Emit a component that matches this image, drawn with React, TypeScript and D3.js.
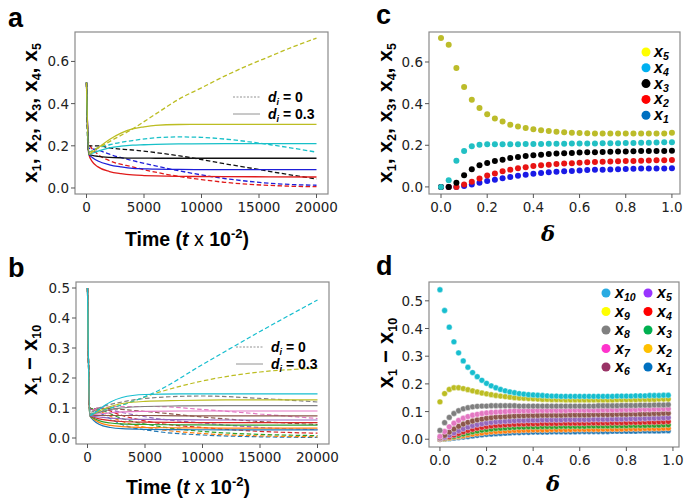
import React from 'react';
import * as d3 from 'd3';

// ---------- panel a: five species, d_i = 0.3 (solid) and d_i = 0 (dashed)
const tSolidA = [0, 200, 500, 1000, 2000, 3000, 4000, 5000, 6000, 8000, 12000, 20000];
const solidA = [
  { color: '#e01a1a', v: [0.5, 0.16, 0.125, 0.1, 0.078, 0.068, 0.062, 0.059, 0.057, 0.055, 0.054, 0.052] },
  { color: '#1f1fd8', v: [0.5, 0.16, 0.145, 0.128, 0.11, 0.1, 0.093, 0.091, 0.089, 0.088, 0.087, 0.087] },
  { color: '#111111', v: [0.5, 0.16, 0.155, 0.15, 0.145, 0.143, 0.142, 0.142, 0.141, 0.141, 0.141, 0.141] },
  { color: '#17c0c8', v: [0.5, 0.16, 0.165, 0.175, 0.19, 0.198, 0.203, 0.205, 0.207, 0.209, 0.21, 0.21] },
  { color: '#bcbd22', v: [0.5, 0.16, 0.17, 0.19, 0.23, 0.26, 0.28, 0.29, 0.297, 0.301, 0.302, 0.302] },
];
const tDashA = [0, 150, 1000, 2000, 4000, 6000, 8000, 10000, 12000, 14000, 16000, 18000, 20000];
const dashA = [
  { color: '#e01a1a', v: [0.5, 0.22, 0.16, 0.13, 0.1, 0.075, 0.055, 0.04, 0.027, 0.018, 0.012, 0.008, 0.006] },
  { color: '#1f1fd8', v: [0.5, 0.19, 0.18, 0.16, 0.13, 0.105, 0.082, 0.062, 0.045, 0.032, 0.022, 0.016, 0.013] },
  { color: '#111111', v: [0.5, 0.2, 0.2, 0.19, 0.18, 0.168, 0.153, 0.135, 0.115, 0.097, 0.078, 0.06, 0.043] },
  { color: '#17c0c8', v: [0.5, 0.17, 0.19, 0.205, 0.225, 0.238, 0.242, 0.24, 0.232, 0.22, 0.205, 0.188, 0.17] },
  { color: '#bcbd22', v: [0.5, 0.17, 0.19, 0.22, 0.28, 0.35, 0.42, 0.475, 0.53, 0.58, 0.625, 0.67, 0.71] },
];

// ---------- panel b: ten species
const tab10 = ['#1f77b4', '#ff7f0e', '#2ca02c', '#d62728', '#9467bd', '#8c564b', '#e377c2', '#7f7f7f', '#bcbd22', '#17becf'];
const tSolidB = [0, 200, 500, 1000, 2000, 3000, 5000, 8000, 12000, 20000];
const solidB = [
  [0.5, 0.075, 0.06, 0.046, 0.035, 0.031, 0.029, 0.028, 0.027, 0.027],
  [0.5, 0.075, 0.064, 0.052, 0.042, 0.038, 0.035, 0.034, 0.033, 0.033],
  [0.5, 0.075, 0.067, 0.058, 0.05, 0.047, 0.045, 0.044, 0.043, 0.043],
  [0.5, 0.075, 0.07, 0.064, 0.058, 0.055, 0.053, 0.052, 0.051, 0.051],
  [0.5, 0.075, 0.072, 0.07, 0.066, 0.064, 0.062, 0.061, 0.06, 0.06],
  [0.5, 0.075, 0.075, 0.075, 0.075, 0.075, 0.075, 0.074, 0.074, 0.074],
  [0.5, 0.075, 0.078, 0.08, 0.084, 0.087, 0.089, 0.09, 0.09, 0.09],
  [0.5, 0.075, 0.08, 0.085, 0.095, 0.1, 0.105, 0.107, 0.108, 0.108],
  [0.5, 0.075, 0.08, 0.09, 0.105, 0.115, 0.122, 0.125, 0.127, 0.127],
  [0.5, 0.075, 0.08, 0.095, 0.12, 0.135, 0.145, 0.147, 0.147, 0.147],
];
const tDashB = [0, 200, 1000, 3000, 6000, 10000, 15000, 20000];
const dashB = [
  [0.5, 0.1, 0.085, 0.045, 0.022, 0.01, 0.004, 0.002],
  [0.5, 0.1, 0.09, 0.055, 0.03, 0.015, 0.007, 0.004],
  [0.5, 0.1, 0.095, 0.065, 0.04, 0.022, 0.012, 0.008],
  [0.5, 0.095, 0.1, 0.075, 0.05, 0.035, 0.022, 0.016],
  [0.5, 0.095, 0.1, 0.085, 0.065, 0.05, 0.035, 0.028],
  [0.5, 0.09, 0.1, 0.095, 0.085, 0.07, 0.055, 0.045],
  [0.5, 0.09, 0.1, 0.105, 0.105, 0.095, 0.08, 0.065],
  [0.5, 0.085, 0.1, 0.12, 0.135, 0.14, 0.132, 0.12],
  [0.5, 0.08, 0.09, 0.11, 0.15, 0.19, 0.22, 0.232],
  [0.5, 0.08, 0.09, 0.11, 0.155, 0.245, 0.355, 0.46],
];

// ---------- panel c: steady state vs delta, five species
const deltaC = d3.range(31).map((i) => i / 30);
const dotsC = [
  { color: '#1a1ae6', v: [0, 0, 0, 0.005, 0.012, 0.02, 0.028, 0.035, 0.042, 0.048, 0.054, 0.059, 0.063, 0.067, 0.07, 0.073, 0.075, 0.077, 0.079, 0.081, 0.082, 0.083, 0.084, 0.085, 0.086, 0.087, 0.088, 0.088, 0.089, 0.089, 0.09] },
  { color: '#e81414', v: [0, 0, 0, 0.012, 0.025, 0.04, 0.055, 0.065, 0.075, 0.083, 0.09, 0.095, 0.1, 0.104, 0.107, 0.11, 0.112, 0.114, 0.116, 0.118, 0.12, 0.121, 0.122, 0.123, 0.124, 0.125, 0.126, 0.127, 0.128, 0.128, 0.129] },
  { color: '#000000', v: [0, 0, 0.02, 0.056, 0.085, 0.104, 0.115, 0.125, 0.131, 0.139, 0.144, 0.149, 0.152, 0.155, 0.158, 0.16, 0.162, 0.163, 0.165, 0.166, 0.167, 0.168, 0.169, 0.17, 0.17, 0.171, 0.172, 0.172, 0.173, 0.173, 0.174] },
  { color: '#22c0c4', v: [0, 0.032, 0.126, 0.173, 0.195, 0.203, 0.205, 0.205, 0.205, 0.205, 0.205, 0.206, 0.206, 0.206, 0.207, 0.207, 0.207, 0.208, 0.208, 0.209, 0.209, 0.21, 0.21, 0.21, 0.211, 0.211, 0.212, 0.212, 0.213, 0.214, 0.215] },
  { color: '#bcbc2a', v: [0.715, 0.683, 0.571, 0.48, 0.419, 0.379, 0.349, 0.328, 0.314, 0.299, 0.29, 0.283, 0.277, 0.272, 0.268, 0.265, 0.262, 0.26, 0.259, 0.258, 0.257, 0.256, 0.256, 0.256, 0.256, 0.256, 0.256, 0.256, 0.256, 0.257, 0.26] },
];
const legendC = [
  { label: '5', color: '#ffff00' },
  { label: '4', color: '#00b0f0' },
  { label: '3', color: '#000000' },
  { label: '2', color: '#ff0000' },
  { label: '1', color: '#0070c0' },
];

// ---------- panel d: steady state vs delta, ten species
const deltaD = d3.range(50).map((i) => i * 0.02);
const dotsD = [
  [0.000,0.001,0.002,0.004,0.006,0.008,0.010,0.012,0.014,0.016,0.018,0.019,0.020,0.021,0.022,0.023,0.024,0.024,0.025,0.025,0.026,0.026,0.026,0.026,0.027,0.027,0.027,0.027,0.027,0.027,0.028,0.028,0.028,0.028,0.028,0.028,0.028,0.029,0.029,0.029,0.029,0.029,0.029,0.030,0.030,0.030,0.030,0.030,0.031,0.031],
  [0.000,0.002,0.004,0.007,0.010,0.013,0.016,0.019,0.021,0.023,0.025,0.027,0.028,0.029,0.030,0.031,0.032,0.032,0.033,0.033,0.034,0.034,0.034,0.034,0.035,0.035,0.035,0.035,0.035,0.036,0.036,0.036,0.036,0.036,0.036,0.037,0.037,0.037,0.037,0.037,0.038,0.038,0.038,0.038,0.039,0.039,0.039,0.039,0.040,0.040],
  [0.001,0.003,0.006,0.010,0.014,0.019,0.023,0.027,0.030,0.033,0.035,0.037,0.039,0.040,0.041,0.042,0.043,0.044,0.044,0.045,0.045,0.045,0.046,0.046,0.046,0.046,0.047,0.047,0.047,0.047,0.047,0.047,0.048,0.048,0.048,0.048,0.048,0.049,0.049,0.049,0.049,0.050,0.050,0.050,0.050,0.051,0.051,0.051,0.052,0.052],
  [0.002,0.005,0.009,0.015,0.021,0.027,0.032,0.036,0.040,0.043,0.046,0.048,0.050,0.051,0.052,0.053,0.054,0.055,0.055,0.056,0.056,0.056,0.057,0.057,0.057,0.057,0.058,0.058,0.058,0.058,0.058,0.058,0.059,0.059,0.059,0.059,0.059,0.060,0.060,0.060,0.060,0.061,0.061,0.061,0.062,0.062,0.062,0.063,0.063,0.064],
  [0.003,0.008,0.015,0.023,0.031,0.038,0.044,0.049,0.053,0.056,0.059,0.061,0.063,0.064,0.065,0.066,0.067,0.068,0.068,0.069,0.069,0.069,0.070,0.070,0.070,0.070,0.070,0.071,0.071,0.071,0.071,0.071,0.071,0.072,0.072,0.072,0.072,0.073,0.073,0.073,0.074,0.074,0.074,0.075,0.075,0.076,0.076,0.077,0.077,0.078],
  [0.005,0.014,0.026,0.037,0.047,0.055,0.061,0.066,0.070,0.073,0.076,0.078,0.080,0.081,0.082,0.083,0.084,0.085,0.085,0.086,0.086,0.086,0.087,0.087,0.087,0.087,0.087,0.088,0.088,0.088,0.088,0.088,0.088,0.089,0.089,0.089,0.089,0.089,0.090,0.090,0.090,0.091,0.091,0.091,0.092,0.092,0.093,0.093,0.094,0.094],
  [0.010,0.028,0.045,0.058,0.068,0.076,0.082,0.087,0.090,0.093,0.095,0.097,0.098,0.099,0.100,0.101,0.102,0.102,0.103,0.103,0.103,0.104,0.104,0.104,0.104,0.104,0.104,0.104,0.105,0.105,0.105,0.105,0.105,0.105,0.105,0.106,0.106,0.106,0.106,0.107,0.107,0.107,0.107,0.108,0.108,0.108,0.109,0.109,0.110,0.110],
  [0.032,0.060,0.079,0.093,0.103,0.110,0.114,0.117,0.119,0.120,0.120,0.121,0.121,0.121,0.121,0.121,0.121,0.120,0.120,0.120,0.120,0.120,0.120,0.120,0.120,0.120,0.120,0.120,0.120,0.120,0.120,0.120,0.120,0.120,0.121,0.121,0.121,0.121,0.121,0.122,0.122,0.122,0.122,0.123,0.123,0.123,0.124,0.124,0.124,0.125],
  [0.135,0.165,0.180,0.186,0.186,0.183,0.179,0.175,0.171,0.167,0.164,0.161,0.158,0.156,0.154,0.152,0.150,0.149,0.148,0.147,0.146,0.145,0.144,0.144,0.143,0.143,0.143,0.142,0.142,0.142,0.142,0.142,0.142,0.142,0.142,0.142,0.142,0.142,0.143,0.143,0.143,0.143,0.143,0.144,0.144,0.144,0.144,0.145,0.145,0.145],
  [0.540,0.465,0.405,0.352,0.312,0.283,0.260,0.241,0.226,0.213,0.202,0.193,0.186,0.180,0.175,0.171,0.168,0.165,0.163,0.161,0.160,0.159,0.158,0.157,0.156,0.156,0.155,0.155,0.155,0.155,0.155,0.155,0.155,0.155,0.155,0.155,0.155,0.155,0.156,0.156,0.156,0.156,0.157,0.157,0.157,0.158,0.158,0.158,0.159,0.159],
];
const legendD = [
  { label: '10', color: '#29abe2' }, { label: '5', color: '#9933ff' },
  { label: '9', color: '#ffff00' }, { label: '4', color: '#ff0000' },
  { label: '8', color: '#808080' }, { label: '3', color: '#00b050' },
  { label: '7', color: '#ff33cc' }, { label: '2', color: '#ffc000' },
  { label: '6', color: '#993366' }, { label: '1', color: '#0070c0' },
];

const tickFont = '"DejaVu Sans", sans-serif';
const labelFont = '"Liberation Sans", Arial, sans-serif';

type Sc = d3.ScaleLinear<number, number>;

function Frame({ x, y, xTicks, yTicks, xFmt, yFmt }: { x: Sc; y: Sc; xTicks: number[]; yTicks: number[]; xFmt: (v: number) => string; yFmt: (v: number) => string }) {
  const [x0, x1] = x.range();
  const [y0, y1] = y.range();
  return (
    <g>
      <rect x={x0} y={y1} width={x1 - x0} height={y0 - y1} fill="none" stroke="#8a8a8a" strokeWidth={1.2} />
      {xTicks.map((t) => (
        <g key={'x' + t}>
          <line x1={x(t)} x2={x(t)} y1={y0} y2={y0 + 4} stroke="#555" strokeWidth={1} />
          <text x={x(t)} y={y0 + 18} textAnchor="middle" fontSize={13.5} fontFamily={tickFont} fill="#222">{xFmt(t)}</text>
        </g>
      ))}
      {yTicks.map((t) => (
        <g key={'y' + t}>
          <line x1={x0 - 4} x2={x0} y1={y(t)} y2={y(t)} stroke="#555" strokeWidth={1} />
          <text x={x0 - 6} y={y(t) + 5} textAnchor="end" fontSize={13.5} fontFamily={tickFont} fill="#222">{yFmt(t)}</text>
        </g>
      ))}
    </g>
  );
}

const fmt1 = d3.format('.1f');
const fmtInt = (v: number) => String(v);

function Sub({ s }: { s: string }) {
  return <tspan fontSize={12.5} dy={4}>{s}</tspan>;
}

function TimeLabel({ cx, y }: { cx: number; y: number }) {
  return (
    <text x={cx} y={y} textAnchor="middle" fontFamily={labelFont} fontWeight="bold" fontSize={19.5} fill="#000">
      Time (<tspan fontStyle="italic">t</tspan><tspan fontWeight="normal"> x </tspan>10<tspan fontSize={13} dy={-8}>-2</tspan><tspan dy={8}>)</tspan>
    </text>
  );
}

function DiLegend({ x, y }: { x: number; y: number }) {
  return (
    <g fontFamily={labelFont} fontWeight="bold" fontSize={14}>
      <line x1={x} x2={x + 27} y1={y} y2={y} stroke="#777" strokeWidth={0.8} strokeDasharray="2,1.5" />
      <text x={x + 35} y={y + 5}><tspan fontStyle="italic">d</tspan><tspan fontStyle="italic" fontSize={9} dy={3}>i</tspan><tspan dy={-3}> = 0</tspan></text>
      <line x1={x} x2={x + 27} y1={y + 17} y2={y + 17} stroke="#777" strokeWidth={0.8} />
      <text x={x + 35} y={y + 22}><tspan fontStyle="italic">d</tspan><tspan fontStyle="italic" fontSize={9} dy={3}>i</tspan><tspan dy={-3}> = 0.3</tspan></text>
    </g>
  );
}

function PanelLetter({ x, y, s }: { x: number; y: number; s: string }) {
  return <text x={x} y={y} fontFamily={labelFont} fontWeight="bold" fontSize={27}>{s}</text>;
}

function FiveLabel({ cx, cy }: { cx: number; cy: number }) {
  return (
    <text transform={`translate(${cx},${cy}) rotate(-90)`} textAnchor="middle" fontFamily={labelFont} fontWeight="bold" fontSize={21}>
      x<Sub s="1" /><tspan dy={-4}>, x</tspan><Sub s="2" /><tspan dy={-4}>, x</tspan><Sub s="3" /><tspan dy={-4}>, x</tspan><Sub s="4" /><tspan dy={-4}>, x</tspan><Sub s="5" />
    </text>
  );
}

function TenLabel({ cx, cy }: { cx: number; cy: number }) {
  return (
    <text transform={`translate(${cx},${cy}) rotate(-90)`} textAnchor="middle" fontFamily={labelFont} fontWeight="bold" fontSize={22}>
      x<Sub s="1" /><tspan dy={-4}> − x</tspan><Sub s="10" />
    </text>
  );
}

export default function App() {
  // panel a
  const xa = d3.scaleLinear().domain([-1000, 21000]).range([75, 328]);
  const ya = d3.scaleLinear().domain([-0.0285, 0.7395]).range([194, 32]);
  // panel b
  const xb = d3.scaleLinear().domain([-1000, 21000]).range([76, 329]);
  const yb = d3.scaleLinear().domain([-0.02, 0.52]).range([444, 282]);
  // panel c
  const xc = d3.scaleLinear().domain([-0.052, 1.035]).range([429, 680]);
  const yc = d3.scaleLinear().domain([-0.034, 0.744]).range([194, 32]);
  // panel d
  const xd = d3.scaleLinear().domain([-0.047, 1.026]).range([429, 679]);
  const yd = d3.scaleLinear().domain([-0.028, 0.568]).range([447, 282]);

  const lineOf = (x: Sc, y: Sc, ts: number[]) =>
    d3.line<number>().x((_, i) => x(ts[i])).y((v) => y(v)).curve(d3.curveMonotoneX);

  const la = lineOf(xa, ya, tSolidA);
  const lad = lineOf(xa, ya, tDashA);
  const lb = lineOf(xb, yb, tSolidB);
  const lbd = lineOf(xb, yb, tDashB);

  return (
    <svg width={685} height={501} style={{ display: 'block', position: 'absolute', left: 0, top: 0, background: '#fff' }}>
      <rect width={685} height={501} fill="#fff" />
      <defs>
        <clipPath id="ca"><rect x={75} y={32} width={253} height={162} /></clipPath>
        <clipPath id="cb"><rect x={76} y={282} width={253} height={162} /></clipPath>
      </defs>

      {/* ---- a ---- */}
      <PanelLetter x={8} y={27} s="a" />
      <g clipPath="url(#ca)" fill="none" strokeWidth={1.3}>
        {dashA.map((s, i) => <path key={'ad' + i} d={lad(s.v) || ''} stroke={s.color} strokeDasharray="4.5,2.5" />)}
        {solidA.map((s, i) => <path key={'as' + i} d={la(s.v) || ''} stroke={s.color} />)}
      </g>
      <Frame x={xa} y={ya} xTicks={[0, 5000, 10000, 15000, 20000]} yTicks={[0, 0.2, 0.4, 0.6]} xFmt={fmtInt} yFmt={fmt1} />
      <DiLegend x={233} y={97} />
      <TimeLabel cx={187} y={246} />
      <FiveLabel cx={37} cy={113} />

      {/* ---- b ---- */}
      <PanelLetter x={8} y={277} s="b" />
      <g clipPath="url(#cb)" fill="none" strokeWidth={1.2}>
        {dashB.map((v, i) => <path key={'bd' + i} d={lbd(v) || ''} stroke={tab10[i]} strokeDasharray="4.5,2.5" />)}
        {solidB.map((v, i) => <path key={'bs' + i} d={lb(v) || ''} stroke={tab10[i]} />)}
      </g>
      <Frame x={xb} y={yb} xTicks={[0, 5000, 10000, 15000, 20000]} yTicks={[0, 0.1, 0.2, 0.3, 0.4, 0.5]} xFmt={fmtInt} yFmt={fmt1} />
      <DiLegend x={236} y={347} />
      <TimeLabel cx={188} y={494} />
      <TenLabel cx={37} cy={360} />

      {/* ---- c ---- */}
      <PanelLetter x={376} y={24} s="c" />
      {dotsC.map((s, k) => (
        <g key={'c' + k} fill={s.color}>
          {s.v.map((v, i) => <circle key={i} cx={xc(deltaC[i])} cy={yc(v)} r={3} />)}
        </g>
      ))}
      <Frame x={xc} y={yc} xTicks={[0, 0.2, 0.4, 0.6, 0.8, 1.0]} yTicks={[0, 0.2, 0.4, 0.6]} xFmt={fmt1} yFmt={fmt1} />
      {legendC.map((l, i) => (
        <g key={'lc' + i}>
          <circle cx={646} cy={52 + i * 15.8} r={4.5} fill={l.color} />
          <text x={654} y={57 + i * 15.8} fontFamily={labelFont} fontWeight="bold" fontStyle="italic" fontSize={16}>x<tspan fontSize={10.5} dy={3}>{l.label}</tspan></text>
        </g>
      ))}
      <text x={548} y={241} textAnchor="middle" fontFamily='"DejaVu Serif", serif' fontWeight="bold" fontStyle="italic" fontSize={21}>δ</text>
      <FiveLabel cx={392} cy={113} />

      {/* ---- d ---- */}
      <PanelLetter x={376} y={275} s="d" />
      {dotsD.map((vals, k) => (
        <g key={'d' + k} fill={tab10[k]} stroke="#fff" strokeWidth={0.4}>
          {vals.map((v, i) => <circle key={i} cx={xd(deltaD[i])} cy={yd(v)} r={2.9} />)}
        </g>
      ))}
      <Frame x={xd} y={yd} xTicks={[0, 0.2, 0.4, 0.6, 0.8, 1.0]} yTicks={[0, 0.1, 0.2, 0.3, 0.4, 0.5]} xFmt={fmt1} yFmt={fmt1} />
      {legendD.map((l, i) => {
        const col = i % 2;
        const row = Math.floor(i / 2);
        const cx = col === 0 ? 606 : 648;
        const cy = 293 + row * 18.5;
        return (
          <g key={'ld' + i}>
            <circle cx={cx} cy={cy} r={4.5} fill={l.color} />
            <text x={cx + 9} y={cy + 5} fontFamily={labelFont} fontWeight="bold" fontStyle="italic" fontSize={16}>x<tspan fontSize={10.5} dy={3}>{l.label}</tspan></text>
          </g>
        );
      })}
      <text x={553} y={491} textAnchor="middle" fontFamily='"DejaVu Serif", serif' fontWeight="bold" fontStyle="italic" fontSize={21}>δ</text>
      <TenLabel cx={393} cy={353} />
    </svg>
  );
}
